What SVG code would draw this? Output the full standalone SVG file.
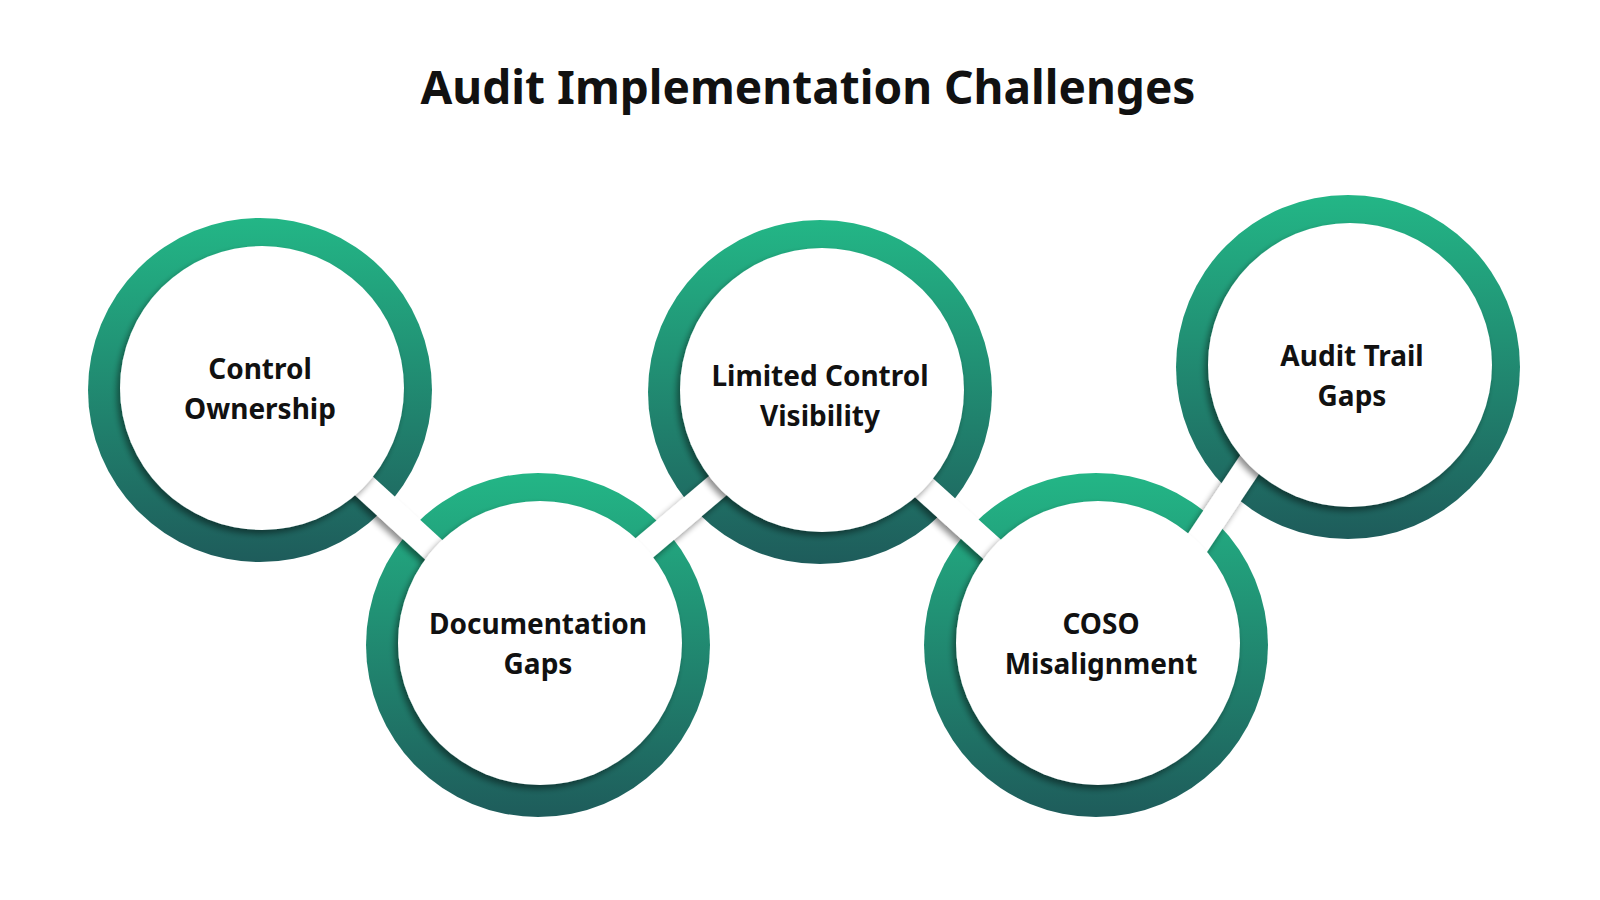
<svg xmlns="http://www.w3.org/2000/svg" width="1600" height="900" viewBox="0 0 1600 900">
<defs>
<linearGradient id="g" x1="0" y1="0" x2="0" y2="1"><stop offset="0" stop-color="#23b686"/><stop offset="1" stop-color="#1e5c5b"/></linearGradient>
<filter id="sh" x="-20%" y="-20%" width="140%" height="140%"><feGaussianBlur in="SourceAlpha" stdDeviation="3"/><feOffset dx="-3" dy="4"/><feComponentTransfer><feFuncA type="linear" slope="0.45"/></feComponentTransfer><feMerge><feMergeNode/><feMergeNode in="SourceGraphic"/></feMerge></filter>
<style>.ring{fill:url(#g)}.in{fill:#fff;filter:url(#sh)}.lk{stroke:#fff;stroke-width:26;fill:none;filter:url(#sh)}.t{font-family:"Noto Sans",sans-serif;font-weight:700;font-size:28px;fill:#111;text-anchor:middle}.ti{font-family:"Noto Sans",sans-serif;font-weight:700;font-size:46px;fill:#111;text-anchor:middle}</style>
</defs>
<rect width="1600" height="900" fill="#fff"/>
<text class="ti" x="808" y="104">Audit Implementation Challenges</text>
<g id="rings">
<circle class="ring" cx="260" cy="390" r="172"/>
<circle class="ring" cx="538" cy="645" r="172"/>
<circle class="ring" cx="820" cy="392" r="172"/>
<circle class="ring" cx="1096" cy="645" r="172"/>
<circle class="ring" cx="1348" cy="367" r="172"/>
</g>
<g id="connectors">
<line class="lk" x1="352" y1="475" x2="446" y2="561"/>
<line class="lk" x1="630" y1="560" x2="728" y2="477"/>
<line class="lk" x1="912" y1="477" x2="1004" y2="560"/>
<line class="lk" x1="1186" y1="560" x2="1258" y2="452"/>
</g>
<g id="n1"><circle class="in" cx="262" cy="388" r="142"/><text class="t" x="260" y="379">Control</text><text class="t" x="260" y="419">Ownership</text></g>
<g id="n2"><circle class="in" cx="540" cy="643" r="142"/><text class="t" x="538" y="634">Documentation</text><text class="t" x="538" y="674">Gaps</text></g>
<g id="n3"><circle class="in" cx="822" cy="390" r="142"/><text class="t" x="820" y="386">Limited Control</text><text class="t" x="820" y="426">Visibility</text></g>
<g id="n4"><circle class="in" cx="1098" cy="643" r="142"/><text class="t" x="1101" y="634">COSO</text><text class="t" x="1101" y="674">Misalignment</text></g>
<g id="n5"><circle class="in" cx="1350" cy="365" r="142"/><text class="t" x="1352" y="366">Audit Trail</text><text class="t" x="1352" y="406">Gaps</text></g>
</svg>
